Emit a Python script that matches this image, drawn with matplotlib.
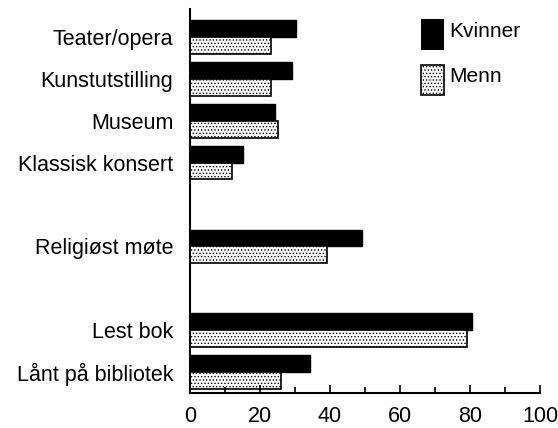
import matplotlib.pyplot as plt
import numpy as np

plt.rcParams['font.family'] = ['Liberation Sans', 'DejaVu Sans']
plt.rcParams['hatch.linewidth'] = 0.6

categories = ['Teater/opera', 'Kunstutstilling', 'Museum', 'Klassisk konsert',
              'Religiøst møte', 'Lest bok', 'Lånt på bibliotek']
slots = [0, 1, 2, 3, 5, 7, 8]  # empty rows between the groups
kvinner = [30.3, 29.2, 24.4, 15.2, 49.2, 80.5, 34.3]
menn = [23, 23, 25, 12, 39, 79.2, 26]

fig = plt.figure(figsize=(5.58, 4.28), dpi=100)
ax = fig.add_axes([190 / 558, 35 / 428, 350 / 558, 384 / 428])

y = np.array(slots, dtype=float)
h = 0.4
ax.barh(y - h / 2, kvinner, height=h, color='black', edgecolor='black', linewidth=1)
ax.barh(y + h / 2, menn, height=h, color='white', edgecolor='black', linewidth=1.2,
        hatch='.....')

ax.set_ylim(8.5, -0.67)
ax.set_xlim(0, 100)
ax.set_yticks(slots)
ax.set_yticklabels(categories, fontsize=15.5)
ax.tick_params(axis='y', length=0, pad=12)
ax.set_xticks([0, 20, 40, 60, 80, 100])
ax.set_xticks([10, 30, 50, 70, 90], minor=True)
ax.tick_params(axis='x', which='major', direction='in', length=6, width=1.2, labelsize=15.5, pad=9)
ax.tick_params(axis='x', which='minor', direction='in', length=4, width=1.2)
for s in ['top', 'right']:
    ax.spines[s].set_visible(False)
ax.spines['left'].set_linewidth(1.5)
ax.spines['bottom'].set_linewidth(1.5)

# legend drawn as boxes with text next to them
ax.bar([66], [0.74], width=6.6, bottom=[-0.43], color='black', align='edge')
ax.bar([66], [0.71], width=6.6, bottom=[0.67], color='white', edgecolor='black',
       linewidth=1.2, hatch='.....', align='edge')
ax.text(74, -0.14, 'Kvinner', fontsize=15, va='center')
ax.text(74, 0.95, 'Menn', fontsize=15, va='center')

fig.savefig('out.png')
